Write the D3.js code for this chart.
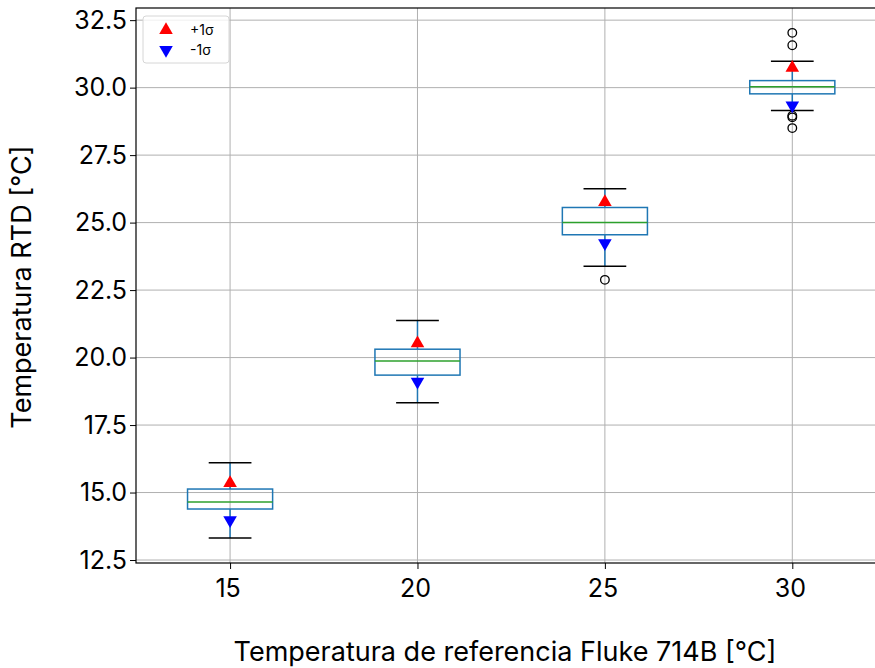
<!DOCTYPE html>
<html><head><meta charset="utf-8">
<script src="https://cdn.jsdelivr.net/npm/d3@7"></script>
<style>body{margin:0;background:#fff}svg{display:block}text{font-family:Inter,"DejaVu Sans",sans-serif}</style>
</head><body><svg id="c" width="875" height="668"></svg>
<script>
const categories = [15, 20, 25, 30];
const whiskerLow  = [13.32, 18.33, 23.38, 29.15];
const q1          = [14.39, 19.35, 24.55, 29.77];
const medians     = [14.65, 19.87, 25.00, 30.03];
const q3          = [15.13, 20.31, 25.56, 30.26];
const whiskerHigh = [16.10, 21.37, 26.25, 30.98];
const plusSigma   = [15.35, 20.53, 25.76, 30.73];
const minusSigma  = [13.98, 19.11, 24.24, 29.34];
const outliers    = [[], [], [22.88], [32.03, 31.57, 28.96, 28.90, 28.50]];
const yTicks = [12.5, 15.0, 17.5, 20.0, 22.5, 25.0, 27.5, 30.0, 32.5];
const legendLabels = ["+1σ", "-1σ"];

const svg = d3.select("#c");
const L = 136, T = 8, B = 563, R = 886;
const x = d3.scaleLinear().domain([12.49, 32.5]).range([L, R]);
const y = d3.scaleLinear().domain([12.39, 32.95]).range([B, T]);

// grid
const g = svg.append("g");
g.selectAll(".gx").data(categories).join("line")
  .attr("x1", d => x(d)).attr("x2", d => x(d)).attr("y1", T).attr("y2", B)
  .attr("stroke", "#b0b0b0").attr("stroke-width", 1);
g.selectAll(".gy").data(yTicks).join("line")
  .attr("x1", L).attr("x2", R).attr("y1", d => y(d)).attr("y2", d => y(d))
  .attr("stroke", "#b0b0b0").attr("stroke-width", 1);

// axes
const yAxis = d3.axisLeft(y).tickValues(yTicks).tickFormat(d3.format(".1f")).tickSize(6).tickPadding(3);
const xAxis = d3.axisBottom(x).tickValues(categories).tickFormat(d3.format("d")).tickSize(6).tickPadding(7);
const ya = svg.append("g").attr("transform", `translate(${L},0)`).call(yAxis);
const xa = svg.append("g").attr("transform", `translate(0,${B})`).call(xAxis);
[ya, xa].forEach(a => {
  a.select(".domain").remove();
  a.selectAll("line").attr("stroke", "#000").attr("stroke-width", 1);
  a.selectAll("text").attr("fill", "#000").style("font-size", "25px");
});
xa.selectAll("text").attr("dy", "0.85em").attr("dx", "-0.1em");

// frame
svg.append("rect").attr("x", L).attr("y", T).attr("width", R - L).attr("height", B - T)
  .attr("fill", "none").attr("stroke", "#000").attr("stroke-width", 1.2);

// boxes
const bw = 2.27, cw = 1.14;
const boxes = svg.append("g");
categories.forEach((c, i) => {
  const cx = x(c);
  const gb = boxes.append("g");
  gb.append("line").attr("x1", cx).attr("x2", cx).attr("y1", y(q3[i])).attr("y2", y(whiskerHigh[i]))
    .attr("stroke", "#1f77b4").attr("stroke-width", 1.5);
  gb.append("line").attr("x1", cx).attr("x2", cx).attr("y1", y(q1[i])).attr("y2", y(whiskerLow[i]))
    .attr("stroke", "#1f77b4").attr("stroke-width", 1.5);
  [whiskerHigh[i], whiskerLow[i]].forEach(v => {
    gb.append("line").attr("x1", x(c - cw / 2)).attr("x2", x(c + cw / 2)).attr("y1", y(v)).attr("y2", y(v))
      .attr("stroke", "#000").attr("stroke-width", 1.5);
  });
  gb.append("rect").attr("x", x(c - bw / 2)).attr("width", x(c + bw / 2) - x(c - bw / 2))
    .attr("y", y(q3[i])).attr("height", y(q1[i]) - y(q3[i]))
    .attr("fill", "none").attr("stroke", "#1f77b4").attr("stroke-width", 1.5);
  gb.append("line").attr("x1", x(c - bw / 2)).attr("x2", x(c + bw / 2)).attr("y1", y(medians[i])).attr("y2", y(medians[i]))
    .attr("stroke", "#2ca02c").attr("stroke-width", 1.5);
  gb.selectAll("circle").data(outliers[i]).join("circle")
    .attr("cx", cx).attr("cy", d => y(d)).attr("r", 4.3)
    .attr("fill", "none").attr("stroke", "#000").attr("stroke-width", 1.3);
});

const tri = d3.symbol().type(d3.symbolTriangle).size(80);
svg.append("g").selectAll("path").data(categories).join("path")
  .attr("d", tri).attr("fill", "red")
  .attr("transform", (d, i) => `translate(${x(d)},${y(plusSigma[i])})`);
svg.append("g").selectAll("path").data(categories).join("path")
  .attr("d", tri).attr("fill", "blue")
  .attr("transform", (d, i) => `translate(${x(d)},${y(minusSigma[i])}) rotate(180)`);

// legend
const lg = svg.append("g").attr("transform", "translate(143,16)");
lg.append("rect").attr("width", 86).attr("height", 47).attr("rx", 3)
  .attr("fill", "#fff").attr("fill-opacity", 0.8).attr("stroke", "#d6d6d6");
const lcol = ["red", "blue"];
legendLabels.forEach((t, i) => {
  lg.append("path").attr("d", tri).attr("fill", lcol[i])
    .attr("transform", `translate(23,${14 + i * 20})${i ? " rotate(180)" : ""}`);
  lg.append("text").attr("x", 47).attr("y", 14 + i * 20).attr("dy", "0.35em")
    .style("font-size", "14px").attr("fill", "#000").text(t);
});

// axis labels
svg.append("text").attr("x", 505).attr("y", 661).attr("text-anchor", "middle")
  .style("font-size", "27px").attr("fill", "#000").text("Temperatura de referencia Fluke 714B [°C]");
svg.append("text").attr("transform", "translate(31,287) rotate(-90)").attr("text-anchor", "middle")
  .style("font-size", "27px").attr("fill", "#000").text("Temperatura RTD [°C]");
</script></body></html>
